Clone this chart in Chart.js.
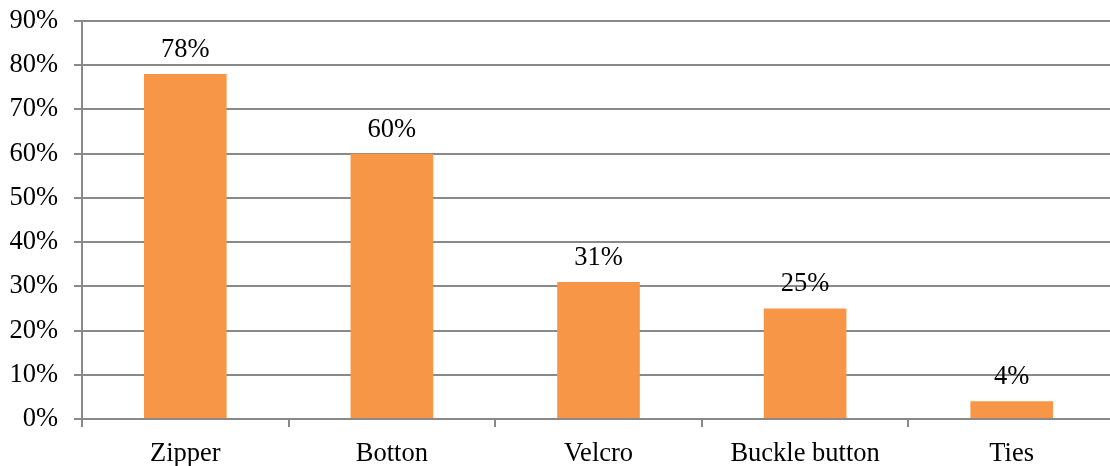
<!DOCTYPE html>
<html>
<head>
<meta charset="utf-8">
<script src="https://cdn.jsdelivr.net/npm/chart.js@4/dist/chart.umd.min.js"></script>
<style>
    html, body { margin: 0; padding: 0; background: #fff; overflow: hidden; }
    #wrap { position: relative; width: 1118px; height: 466px; }
</style>
</head>
<body>
<div id="wrap"><canvas id="fastenerChart"></canvas></div>
<script>
const categories = ['Zipper', 'Botton', 'Velcro', 'Buckle button', 'Ties'];
const shares = [78, 60, 31, 25, 4];
const yTicks = [0, 10, 20, 30, 40, 50, 60, 70, 80, 90];

const barColor = '#F79646';
const gridColor = '#898989';
const fontFamily = "'Liberation Serif', 'Times New Roman', serif";
const fontSize = 26.5;

// value labels drawn just above each bar
const barLabels = {
    id: 'barLabels',
    afterDatasetsDraw(chart) {
        const ctx = chart.ctx;
        const meta = chart.getDatasetMeta(0);
        ctx.save();
        ctx.font = `${fontSize}px ${fontFamily}`;
        ctx.fillStyle = '#000';
        ctx.textAlign = 'center';
        ctx.textBaseline = 'alphabetic';
        meta.data.forEach((bar, i) => {
            ctx.fillText(`${shares[i]}%`, bar.x, bar.y - 17);
        });
        ctx.restore();
    }
};

new Chart(document.getElementById('fastenerChart'), {
    type: 'bar',
    data: {
        labels: categories,
        datasets: [{
            data: shares,
            backgroundColor: barColor,
            borderWidth: 0,
            categoryPercentage: 1,
            barPercentage: 0.4
        }]
    },
    options: {
        responsive: true,
        maintainAspectRatio: false,
        animation: false,
        devicePixelRatio: 1,
        layout: { padding: { top: 21, right: 3, left: 0, bottom: 0 } },
        plugins: {
            legend: { display: false },
            tooltip: { enabled: false }
        },
        scales: {
            x: {
                grid: {
                    offset: true,
                    drawOnChartArea: false,
                    drawTicks: true,
                    tickLength: 8,
                    color: gridColor,
                    lineWidth: 2
                },
                border: { color: gridColor, width: 2 },
                ticks: {
                    color: '#000',
                    padding: 11,
                    font: { family: fontFamily, size: fontSize }
                },
                afterFit: (scale) => { scale.height = 47; }
            },
            y: {
                min: 0,
                max: 90,
                afterBuildTicks: (scale) => {
                    scale.ticks = yTicks.map(v => ({ value: v }));
                },
                grid: {
                    color: gridColor,
                    lineWidth: 2,
                    tickLength: 8
                },
                border: { color: gridColor, width: 2 },
                ticks: {
                    color: '#000',
                    padding: 16,
                    font: { family: fontFamily, size: fontSize },
                    callback: (v) => `${v}%`
                },
                afterFit: (scale) => {
                    scale.width = 82;
                    scale.paddingTop = 0;
                    scale.paddingBottom = 0;
                }
            }
        }
    },
    plugins: [barLabels]
});
</script>
</body>
</html>
